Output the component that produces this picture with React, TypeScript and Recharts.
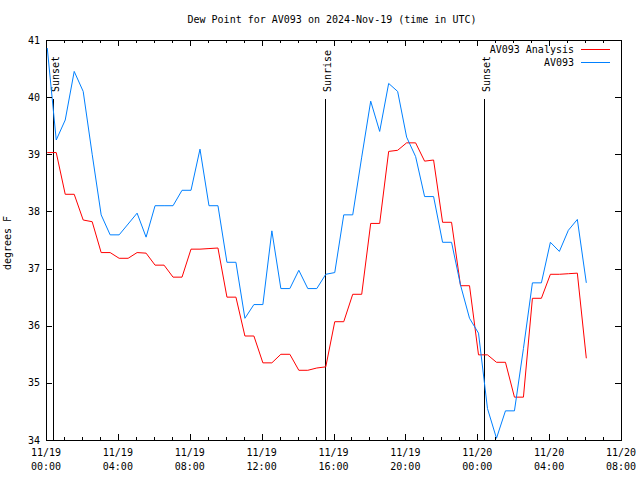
import React from 'react';
import { LineChart, Line, XAxis, YAxis, ReferenceLine, ReferenceArea, Customized } from 'recharts';

// time of each sample, hours since 11/19 00:00 UTC
const hours = [
  0.07, 0.57, 1.07, 1.57, 2.07, 2.57, 3.07, 3.57, 4.07, 4.57,
  5.07, 5.57, 6.07, 6.57, 7.07, 7.57, 8.07, 8.57, 9.07, 9.57,
  10.07, 10.57, 11.07, 11.57, 12.07, 12.57, 13.07, 13.57, 14.07, 14.57,
  15.07, 15.57, 16.07, 16.57, 17.07, 17.57, 18.07, 18.57, 19.07, 19.57,
  20.07, 20.57, 21.07, 21.57, 22.07, 22.57, 23.07, 23.57, 24.07, 24.57,
  25.07, 25.57, 26.07, 26.57, 27.07, 27.57, 28.07, 28.57, 29.07, 29.57,
  30.07,
];

const analysis = [
  39.03, 39.03, 38.3, 38.3, 37.85, 37.82, 37.28, 37.28, 37.18, 37.18,
  37.28, 37.27, 37.06, 37.06, 36.85, 36.85, 37.34, 37.34, 37.35, 37.36,
  36.5, 36.5, 35.82, 35.82, 35.35, 35.35, 35.5, 35.5, 35.22, 35.22,
  35.26, 35.28, 36.07, 36.07, 36.55, 36.55, 37.79, 37.79, 39.05, 39.07,
  39.2, 39.2, 38.88, 38.9, 37.81, 37.81, 36.7, 36.7, 35.49, 35.49,
  35.36, 35.36, 34.75, 34.75, 36.48, 36.48, 36.9, 36.9, 36.91, 36.92,
  35.43,
];

const observed = [
  40.86, 39.25, 39.6, 40.45, 40.1, 39.0, 37.94, 37.59, 37.59, 37.78,
  37.97, 37.55, 38.1, 38.1, 38.1, 38.37, 38.37, 39.09, 38.1, 38.1,
  37.11, 37.11, 36.13, 36.37, 36.37, 37.66, 36.65, 36.65, 36.97, 36.65,
  36.65, 36.9, 36.93, 37.94, 37.94, 38.95, 39.93, 39.4, 40.24, 40.1,
  39.3, 38.96, 38.26, 38.26, 37.46, 37.46, 36.71, 36.13, 35.87, 34.55,
  34.03, 34.51, 34.51, 35.6, 36.75, 36.75, 37.46, 37.3, 37.67, 37.86,
  36.75,
];

const seriesKeys = ['analysis', 'observed'];
const seriesNames = ['AV093 Analysis', 'AV093'];
const seriesColors = ['#ff0000', '#0080ff'];

const yTicks = [34, 35, 36, 37, 38, 39, 40, 41];
const xMajorTicks = [0, 4, 8, 12, 16, 20, 24, 28, 32];
const xMinorTicks = [1, 2, 3, 5, 6, 7, 9, 10, 11, 13, 14, 15, 17, 18, 19, 21, 22, 23, 25, 26, 27, 29, 30, 31];
const xDateLabels = ['11/19', '11/19', '11/19', '11/19', '11/19', '11/19', '11/20', '11/20', '11/20'];
const xTimeLabels = ['00:00', '04:00', '08:00', '12:00', '16:00', '20:00', '00:00', '04:00', '08:00'];

const eventLabels = ['Sunset', 'Sunrise', 'Sunset'];
const eventHours = [0.4, 15.5, 24.4];

const title = 'Dew Point for AV093 on 2024-Nov-19 (time in UTC)';
const yLabel = 'degrees F';

// layout
const W = 640;
const H = 480;
const L = 46;
const R = 621;
const T = 40;
const B = 440;
const FONT = '"DejaVu Sans Mono", "Liberation Mono", monospace';

const data = hours.map((h, i) => ({ h, analysis: analysis[i], observed: observed[i] }));
const allXTicks = [...xMajorTicks, ...xMinorTicks].sort((a, b) => a - b);

const XTick = (props: any) => {
  const { x, payload } = props;
  const v = payload.value;
  const i = xMajorTicks.indexOf(v);
  const len = i >= 0 ? 6 : 3;
  const px = Math.round(x) + 0.5;
  return (
    <g>
      <line x1={px} x2={px} y1={B} y2={B - len} stroke="#000" shapeRendering="crispEdges" />
      <line x1={px} x2={px} y1={T} y2={T + len} stroke="#000" shapeRendering="crispEdges" />
      {i >= 0 && (
        <text x={x} y={456} textAnchor="middle" fontFamily={FONT} fontSize={10} fill="#000">
          {xDateLabels[i]}
        </text>
      )}
      {i >= 0 && (
        <text x={x} y={470} textAnchor="middle" fontFamily={FONT} fontSize={10} fill="#000">
          {xTimeLabels[i]}
        </text>
      )}
    </g>
  );
};

const YTick = (props: any) => {
  const { y, payload } = props;
  const py = Math.round(y) + 0.5;
  return (
    <g>
      <line x1={L} x2={L + 6} y1={py} y2={py} stroke="#000" shapeRendering="crispEdges" />
      <line x1={R - 6} x2={R} y1={py} y2={py} stroke="#000" shapeRendering="crispEdges" />
      <text x={40} y={y + 3.5} textAnchor="end" fontFamily={FONT} fontSize={10} fill="#000">
        {payload.value}
      </text>
    </g>
  );
};

const makeEventShape = (label: string) => (props: any) => {
  const { x1, y1, y2 } = props;
  const top = Math.min(y1, y2);
  const bottom = Math.max(y1, y2);
  const px = Math.round(x1) + 0.5;
  return (
    <g>
      <line x1={px} x2={px} y1={top + 59} y2={bottom} stroke="#000" shapeRendering="crispEdges" />
      <text
        transform={`translate(${px + 5.5},${top + 52}) rotate(-90)`}
        textAnchor="start"
        fontFamily={FONT}
        fontSize={10}
        fill="#000"
      >
        {label}
      </text>
    </g>
  );
};

const Decorations = () => (
  <g>
    <text x={332} y={23} textAnchor="middle" fontFamily={FONT} fontSize={10} fill="#000">
      {title}
    </text>
    <text
      transform={`translate(10.5,243) rotate(-90)`}
      textAnchor="middle"
      fontFamily={FONT}
      fontSize={10}
      fill="#000"
    >
      {yLabel}
    </text>
    {seriesNames.map((name, i) => (
      <g key={name}>
        <text x={574} y={53 + i * 13} textAnchor="end" fontFamily={FONT} fontSize={10} fill="#000">
          {name}
        </text>
        <line
          x1={581}
          x2={610}
          y1={49.5 + i * 13}
          y2={49.5 + i * 13}
          stroke={seriesColors[i]}
          strokeWidth={1}
          shapeRendering="crispEdges"
        />
      </g>
    ))}
  </g>
);

export default function App() {
  return (
    <div style={{ position: 'absolute', left: 0, top: 0, width: W, height: H, background: '#fff' }}>
      <LineChart
        width={W}
        height={H}
        data={data}
        margin={{ top: T, right: W - R, bottom: 0, left: 0 }}
      >
        <XAxis
          dataKey="h"
          type="number"
          domain={[0, 32]}
          ticks={allXTicks}
          interval={0}
          height={H - B}
          axisLine={false}
          tickLine={false}
          tick={<XTick />}
          allowDataOverflow
        />
        <YAxis
          type="number"
          domain={[34, 41]}
          ticks={yTicks}
          interval={0}
          width={L}
          axisLine={false}
          tickLine={false}
          tick={<YTick />}
          allowDataOverflow
        />
        <ReferenceArea
          x1={0}
          x2={32}
          y1={34}
          y2={41}
          fill="none"
          fillOpacity={0}
          stroke="#000"
          strokeWidth={1}
          shapeRendering="crispEdges"
          ifOverflow="visible"
        />
        {eventHours.map((t, i) => (
          <ReferenceLine key={i} x={t} shape={makeEventShape(eventLabels[i])} />
        ))}
        {seriesKeys.map((k, i) => (
          <Line
            key={k}
            dataKey={k}
            name={seriesNames[i]}
            type="linear"
            stroke={seriesColors[i]}
            strokeWidth={1}
            dot={false}
            activeDot={false}
            isAnimationActive={false}
          />
        ))}
        <Customized component={Decorations} />
      </LineChart>
    </div>
  );
}
